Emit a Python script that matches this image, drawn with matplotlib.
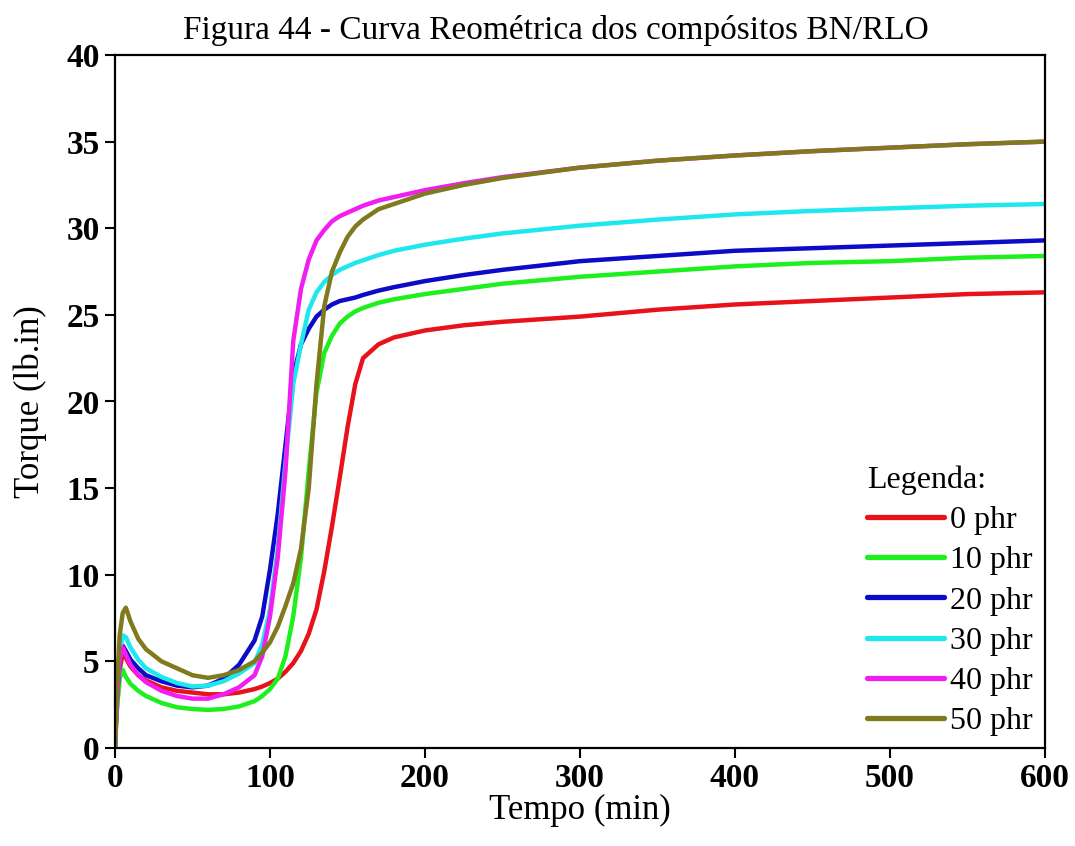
import matplotlib
matplotlib.use("Agg")
import matplotlib.pyplot as plt

plt.rcParams['font.family'] = ['Liberation Serif', 'DejaVu Serif']

time_min = [0, 1, 3, 5, 7, 10, 15, 20, 30, 40, 50, 60, 70, 80, 90, 95, 100, 105, 110, 115,
            120, 125, 130, 135, 140, 145, 150, 155, 160, 170, 180, 200, 225, 250, 300, 350,
            400, 450, 500, 550, 600]

torque_0phr = [0, 2.0, 4.5, 5.5, 5.2, 4.7, 4.2, 3.9, 3.5, 3.3, 3.2, 3.1, 3.1, 3.2, 3.4, 3.55,
               3.75, 4.0, 4.4, 4.9, 5.6, 6.6, 8.0, 10.2, 12.8, 15.6, 18.5, 21.0, 22.5, 23.3,
               23.7, 24.1, 24.4, 24.6, 24.9, 25.3, 25.6, 25.8, 26.0, 26.2, 26.3]
torque_10phr = [0, 2.0, 4.0, 4.5, 4.1, 3.7, 3.3, 3.0, 2.6, 2.35, 2.25, 2.2, 2.25, 2.4, 2.7, 3.0,
                3.4, 4.0, 5.3, 7.6, 11.0, 16.0, 20.5, 22.8, 23.8, 24.5, 24.9, 25.2, 25.4, 25.7,
                25.9, 26.2, 26.5, 26.8, 27.2, 27.5, 27.8, 28.0, 28.1, 28.3, 28.4]
torque_20phr = [0, 2.5, 5.0, 5.9, 5.6, 5.1, 4.6, 4.2, 3.85, 3.6, 3.5, 3.6, 4.0, 4.8, 6.2, 7.6,
                10.3, 13.5, 17.5, 21.5, 23.3, 24.2, 24.9, 25.3, 25.6, 25.8, 25.9, 26.0, 26.15,
                26.4, 26.6, 26.95, 27.3, 27.6, 28.1, 28.4, 28.7, 28.85, 29.0, 29.15, 29.3]
torque_30phr = [0, 2.8, 5.5, 6.5, 6.4, 5.8, 5.1, 4.6, 4.1, 3.75, 3.55, 3.6, 3.85, 4.3, 4.9, 6.0,
                8.0, 11.5, 16.5, 21.0, 23.3, 25.3, 26.3, 26.9, 27.3, 27.6, 27.8, 28.0, 28.15,
                28.45, 28.7, 29.05, 29.4, 29.7, 30.15, 30.5, 30.8, 31.0, 31.15, 31.3, 31.4]
torque_40phr = [0, 2.5, 5.0, 5.8, 5.4, 4.8, 4.2, 3.8, 3.3, 3.0, 2.85, 2.85, 3.1, 3.5, 4.2, 5.3,
                7.6, 11.0, 16.0, 23.5, 26.5, 28.2, 29.3, 29.9, 30.4, 30.7, 30.9, 31.1, 31.3,
                31.6, 31.8, 32.2, 32.6, 32.95, 33.5, 33.9, 34.2, 34.45, 34.65, 34.85, 35.0]
torque_50phr = [0, 3.0, 6.5, 7.8, 8.1, 7.3, 6.3, 5.7, 5.0, 4.6, 4.2, 4.05, 4.2, 4.5, 5.0, 5.5,
                6.1, 7.0, 8.2, 9.5, 11.5, 15.0, 21.0, 25.5, 27.5, 28.6, 29.5, 30.1, 30.5, 31.1,
                31.4, 32.0, 32.5, 32.9, 33.5, 33.9, 34.2, 34.45, 34.65, 34.85, 35.0]

series_labels = ['0 phr', '10 phr', '20 phr', '30 phr', '40 phr', '50 phr']
series_values = [torque_0phr, torque_10phr, torque_20phr, torque_30phr, torque_40phr, torque_50phr]
series_colors = ['#e8121a', '#1ef01e', '#0c0cc8', '#1ee8ee', '#f01ef0', '#7f7a1e']

x_ticks = [0, 100, 200, 300, 400, 500, 600]
y_ticks = [0, 5, 10, 15, 20, 25, 30, 35, 40]

fig = plt.figure(figsize=(10.75, 8.46), dpi=100)
ax = fig.add_axes([115/1075, 1 - 748/846, 930/1075, 693/846])

for lab, vals, col in zip(series_labels, series_values, series_colors):
    ax.plot(time_min, vals, color=col, lw=3.2, label=lab, solid_capstyle='round',
            solid_joinstyle='round')

ax.set_xlim(0, 600)
ax.set_ylim(0, 40)
ax.set_xticks(x_ticks)
ax.set_yticks(y_ticks)
ax.tick_params(direction='out', length=7, width=1.5, labelsize=24, pad=4)
for lbl in ax.get_xticklabels() + ax.get_yticklabels():
    lbl.set_fontweight('bold')
for sp in ax.spines.values():
    sp.set_linewidth(1.6)

ax.set_xlabel('Tempo (min)', fontsize=25, labelpad=0)
ax.set_ylabel('Torque (lb.in)', fontsize=25, labelpad=14)
fig.text(556/1075, 1 - 31/846, 'Figura 44 - Curva Reométrica dos compósitos BN/RLO',
         fontsize=24, ha='center', va='center')

leg = ax.legend(loc='lower right', bbox_to_anchor=(0.987, 0.017), frameon=False,
                fontsize=23, title='Legenda:', title_fontsize=23, alignment='left',
                handlelength=2.4, handletextpad=0.2, labelspacing=0.34, borderpad=0,
                borderaxespad=0)
for line in leg.get_lines():
    line.set_linewidth(3.8)

fig.savefig('out.png', dpi=100)
